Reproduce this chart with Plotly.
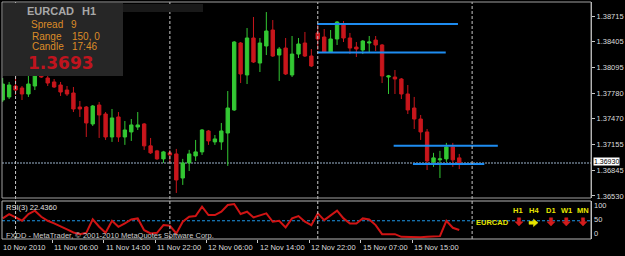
import plotly.graph_objects as go

# ---------------- data ----------------
bar_index = list(range(72))
open_ = [1.37695, 1.37732, 1.37865, 1.37841, 1.37768, 1.37865, 1.38059, 1.37962, 1.37914, 1.37877,
         1.37816, 1.37780, 1.37610, 1.37610, 1.37404, 1.37634, 1.37525, 1.37246, 1.37489, 1.37246,
         1.37307, 1.37367, 1.37404, 1.37138, 1.37077, 1.36980, 1.37053, 1.37040, 1.36748, 1.36931,
         1.37016, 1.37065, 1.37319, 1.37186, 1.37186, 1.37294, 1.37574, 1.38387, 1.37999, 1.38448,
         1.38144, 1.38351, 1.38545, 1.38241, 1.38326, 1.37999, 1.38253, 1.38387, 1.38229, 1.38509,
         1.38460, 1.38278, 1.38436, 1.38618, 1.38448, 1.38338, 1.38302, 1.38387, 1.38423, 1.38363,
         1.37974, 1.37974, 1.37950, 1.37768, 1.37598, 1.37464, 1.37307, 1.36943, 1.36968, 1.36980,
         1.37125, 1.36992]
high = [1.37962, 1.37914, 1.38011, 1.37865, 1.37987, 1.38059, 1.38120, 1.37987, 1.37950, 1.37914,
        1.37865, 1.37853, 1.37683, 1.37622, 1.37634, 1.37671, 1.37549, 1.37586, 1.37549, 1.37440,
        1.37464, 1.37549, 1.37416, 1.37234, 1.37089, 1.37077, 1.37089, 1.37101, 1.36980, 1.37089,
        1.37210, 1.37343, 1.37331, 1.37270, 1.37416, 1.37804, 1.38411, 1.38399, 1.38569, 1.38703,
        1.38448, 1.38763, 1.38666, 1.38338, 1.38448, 1.38472, 1.38448, 1.38521, 1.38314, 1.38605,
        1.38557, 1.38545, 1.38654, 1.38654, 1.38509, 1.38399, 1.38423, 1.38472, 1.38472, 1.38375,
        1.37999, 1.38059, 1.37962, 1.37877, 1.37732, 1.37513, 1.37343, 1.37053, 1.37077, 1.37174,
        1.37174, 1.37040]
low = [1.37671, 1.37707, 1.37756, 1.37695, 1.37732, 1.37816, 1.37962, 1.37865, 1.37841, 1.37744,
       1.37744, 1.37549, 1.37489, 1.37246, 1.37380, 1.37234, 1.37210, 1.37186, 1.37186, 1.37150,
       1.37198, 1.37331, 1.37089, 1.37040, 1.36968, 1.36931, 1.36931, 1.36566, 1.36664, 1.36833,
       1.36955, 1.37028, 1.37150, 1.37150, 1.37089, 1.36895, 1.37562, 1.37901, 1.37889, 1.38144,
       1.38035, 1.38241, 1.38217, 1.37926, 1.37999, 1.37974, 1.38205, 1.38217, 1.38096, 1.38302,
       1.38266, 1.38266, 1.38363, 1.38399, 1.38253, 1.38217, 1.38253, 1.38278, 1.38290, 1.37901,
       1.37768, 1.37768, 1.37707, 1.37525, 1.37343, 1.37210, 1.36845, 1.36883, 1.36748, 1.36943,
       1.36883, 1.36857]
close = [1.37889, 1.37877, 1.37816, 1.37768, 1.37889, 1.38011, 1.37974, 1.37901, 1.37853, 1.37792,
         1.37768, 1.37586, 1.37586, 1.37416, 1.37622, 1.37513, 1.37246, 1.37477, 1.37246, 1.37331,
         1.37392, 1.37392, 1.37138, 1.37053, 1.36980, 1.37065, 1.37028, 1.36724, 1.36931, 1.37040,
         1.37065, 1.37331, 1.37198, 1.37222, 1.37319, 1.37598, 1.38399, 1.38011, 1.38448, 1.38156,
         1.38387, 1.38533, 1.38229, 1.38314, 1.38011, 1.38253, 1.38375, 1.38229, 1.38108, 1.38436,
         1.38278, 1.38436, 1.38642, 1.38448, 1.38326, 1.38314, 1.38411, 1.38399, 1.38363, 1.37987,
         1.37987, 1.37950, 1.37768, 1.37574, 1.37464, 1.37307, 1.36955, 1.36992, 1.36980, 1.37125,
         1.36968, 1.36930]
rsi = [57, 70, 60, 50, 70, 80, 62, 50, 42, 32,
       24, 15, 10, 14, 54, 32, 14, 50, 32, 42,
       54, 57, 22, 12, 14, 37, 35, 12, 47, 62,
       64, 92, 67, 67, 77, 97, 100, 70, 77, 60,
       67, 72, 47, 50, 30, 57, 64, 47, 37, 72,
       52, 67, 80, 57, 42, 42, 57, 54, 37, 10,
       10, 10, 2, 1, 1, 1, 2, 4, 4, 50,
       29, 22.436]

price_ticks = [1.38715, 1.38405, 1.38095, 1.37780, 1.37470, 1.37155, 1.36845, 1.36530]
price_tick_text = ["1.38715", "1.38405", "1.38095", "1.37780", "1.37470", "1.37155", "1.36845", "1.36530"]
time_label_bars = [0, 8, 16, 24, 32, 40, 48, 56, 64]
time_labels = ["10 Nov 2010", "11 Nov 06:00", "11 Nov 14:00", "11 Nov 22:00", "12 Nov 06:00",
               "12 Nov 14:00", "12 Nov 22:00", "15 Nov 07:00", "15 Nov 15:00"]
day_separator_bars = [2, 26, 49, 73]
level_prices = [1.38618, 1.38272, 1.37138, 1.36919]
level_start = [48.9, 48.9, 60.8, 63.8]
level_end = [70.8, 68.9, 77.0, 74.9]
current_price = 1.36930
rsi_levels = [0, 50, 100]
rsi_level_text = ["0", "50", "100"]
timeframes = ["H1", "H4", "D1", "W1", "MN"]
trend_dirs = ["down", "right", "down", "down", "down"]

# ---------------- helpers for layout positions (pixel -> paper) ----------------
PL, PR, PT, PB = 2, 591, 2, 239
def X(px):
    return (px - PL) / (PR - PL)
def Y(py):
    return (PB - py) / (PB - PT)

GREEN = "#33c833"
RED = "#c8161c"
LBL = "#dcdcdc"
FONT = "Liberation Sans"

fig = go.Figure()

fig.add_trace(go.Candlestick(
    x=bar_index, open=open_, high=high, low=low, close=close,
    xaxis="x", yaxis="y",
    increasing=dict(line=dict(color=GREEN, width=1), fillcolor=GREEN),
    decreasing=dict(line=dict(color=RED, width=1), fillcolor=RED),
    whiskerwidth=0, hoverinfo="skip", showlegend=False,
))

# horizontal levels (blue)
lx, ly = [], []
for p, s, e in zip(level_prices, level_start, level_end):
    lx += [s, e, None]
    ly += [p, p, None]
fig.add_trace(go.Scatter(x=lx, y=ly, mode="lines", line=dict(color="#1e8cf0", width=2),
                         xaxis="x", yaxis="y", hoverinfo="skip", showlegend=False))

# RSI
fig.add_trace(go.Scatter(x=bar_index, y=rsi, mode="lines", line=dict(color="#d01414", width=2),
                         xaxis="x2", yaxis="y2", hoverinfo="skip", showlegend=False))

shapes = []
# day separators
for b in day_separator_bars:
    shapes.append(dict(type="line", xref="x", yref="paper", x0=b, x1=b, y0=0, y1=1,
                       line=dict(color="#c8c8c8", width=1, dash="3px,2px"), layer="above"))
# current price line
shapes.append(dict(type="line", xref="paper", yref="y", x0=0, x1=1, y0=current_price, y1=current_price,
                   line=dict(color="#687888", width=1.5, dash="2px,1px"), layer="below"))
# RSI 50 level
shapes.append(dict(type="line", xref="paper", yref="y2", x0=0, x1=1, y0=50, y1=50,
                   line=dict(color="#1e96e6", width=1, dash="3px,2px"), layer="below"))
# panel borders
shapes.append(dict(type="rect", xref="paper", yref="y domain", x0=0, x1=1, y0=0, y1=1,
                   line=dict(color="#a0a0a0", width=1)))
shapes.append(dict(type="rect", xref="paper", yref="y2 domain", x0=0, x1=1, y0=0, y1=1,
                   line=dict(color="#b4b4b4", width=1)))
# info box
shapes.append(dict(type="rect", xref="paper", yref="paper", x0=X(3), x1=X(123), y0=Y(76), y1=Y(3),
                   fillcolor="#262626", line=dict(width=0), layer="above"))
shapes.append(dict(type="rect", xref="paper", yref="paper", x0=X(123), x1=X(203), y0=Y(12), y1=Y(4),
                   fillcolor="#191919", line=dict(width=0), layer="above"))


def arrow_path(cx, cy, direction):
    if direction == "down":
        pts = [(cx - 1.6, cy - 4), (cx + 1.6, cy - 4), (cx + 1.6, cy), (cx + 4, cy),
               (cx, cy + 4.2), (cx - 4, cy), (cx - 1.6, cy)]
    else:
        pts = [(cx - 4.5, cy - 1.5), (cx, cy - 1.5), (cx, cy - 3.8), (cx + 4.5, cy),
               (cx, cy + 3.8), (cx, cy + 1.5), (cx - 4.5, cy + 1.5)]
    return "M " + " L ".join("%.5f,%.5f" % (X(a), Y(b)) for a, b in pts) + " Z"


YEL = "#e6e600"
tf_x = [518.2, 533.5, 550.5, 566.3, 582.8]
arrow_x = [519, 533.5, 551, 566.3, 583]
for ax_, d in zip(arrow_x, trend_dirs):
    col = "#d41c1c" if d == "down" else YEL
    cy = 221.8 if d == "down" else 222.8
    shapes.append(dict(type="path", xref="paper", yref="paper", path=arrow_path(ax_, cy, d),
                       fillcolor=col, line=dict(color=col, width=0.5), layer="above"))

ann = []
def txt(x, y, text, size, color, xanchor="left", bold=False, family=FONT, xref="paper", yref="paper", **kw):
    t = "<b>%s</b>" % text if bold else text
    ann.append(dict(x=x, y=y, xref=xref, yref=yref, text=t, showarrow=False, xanchor=xanchor,
                    yanchor="middle", font=dict(family=family, size=size, color=color), **kw))

# info box texts
txt(X(25), Y(11.5), "EURCAD", 11, "#a8a8a8", bold=True)
txt(X(80), Y(11.5), "H1", 11, "#a8a8a8", bold=True)
ORANGE = "#dc8c28"
txt(X(29), Y(24.5), "Spread", 10, ORANGE)
txt(X(69), Y(24.5), "9", 10, ORANGE)
txt(X(29.5), Y(36), "Range", 10, ORANGE)
txt(X(70), Y(36), "150, 0", 10, ORANGE)
txt(X(29.5), Y(46.7), "Candle", 10, ORANGE)
txt(X(70), Y(46.7), "17:46", 10, ORANGE)
txt(X(25.5), Y(62.5), "%.4f" % current_price, 17, "#c0141e", bold=True, family="DejaVu Sans")

# current price label
ann.append(dict(x=X(592.5), y=current_price, xref="paper", yref="y", text="%.5f" % current_price,
                showarrow=False, xanchor="left", yanchor="middle", bgcolor="white", borderpad=0,
                yshift=1.5, font=dict(family=FONT, size=7, color="black")))

# time labels
for b, t in zip(time_label_bars, time_labels):
    ann.append(dict(x=b, y=Y(247), xref="x2", yref="paper", text=t, showarrow=False,
                    xanchor="left", yanchor="middle", xshift=-2,
                    font=dict(family=FONT, size=7.5, color=LBL)))

# RSI axis labels
for v, t, sh in zip(rsi_levels, rsi_level_text, [3.5, 1.5, -1]):
    ann.append(dict(x=X(592), y=v, xref="paper", yref="y2", text=t, showarrow=False,
                    xanchor="left", yanchor="middle", yshift=sh,
                    font=dict(family=FONT, size=7.5, color=LBL)))

# RSI panel texts
txt(X(4), Y(207), "RSI(3) %.4f" % rsi[-1], 7.5, "#e0e0e0")
txt(X(4), Y(235), "FXDD - MetaTrader, \u00a9 2001-2010 MetaQuotes Software Corp.", 7.5, "#cfcfcf")

# trend widget texts
txt(X(474), Y(222.8), "EURCAD", 7.5, YEL, bold=True)
for xx, tf in zip(tf_x, timeframes):
    txt(X(xx), Y(210.2), tf, 7.5, YEL, xanchor="center", bold=True)

xr = [-0.109, 91.49]
fig.update_layout(
    width=625, height=256,
    margin=dict(l=PL, r=625 - PR, t=PT, b=256 - PB),
    paper_bgcolor="black", plot_bgcolor="black",
    showlegend=False, boxgap=0.25,
    xaxis=dict(domain=[0, 1], range=xr, anchor="y", showticklabels=False, showgrid=False,
               zeroline=False, ticks="", rangeslider=dict(visible=False), fixedrange=True),
    yaxis=dict(domain=[(PB - 198) / (PB - PT), 1], range=[1.36505, 1.38885], side="right", anchor="x",
               tickvals=price_ticks, ticktext=price_tick_text, showgrid=False, zeroline=False,
               showline=True, linecolor="#c8c8c8", linewidth=1, ticks="outside", ticklen=3,
               tickcolor="#c8c8c8", tickfont=dict(family=FONT, size=7.5, color=LBL)),
    xaxis2=dict(domain=[0, 1], range=xr, anchor="y2", matches="x", showticklabels=False,
                tickvals=[b - 0.3 for b in time_label_bars], ticks="outside", ticklen=3,
                tickcolor="#c8c8c8", showgrid=False, zeroline=False),
    yaxis2=dict(domain=[0, (PB - 201) / (PB - PT)], range=[-4.5, 109], side="right", anchor="x2",
                tickvals=rsi_levels, showticklabels=False, ticks="", showgrid=False,
                zeroline=False, showline=True, linecolor="#c8c8c8", linewidth=1),
    shapes=shapes, annotations=ann,
)

fig.write_html("out.html")
